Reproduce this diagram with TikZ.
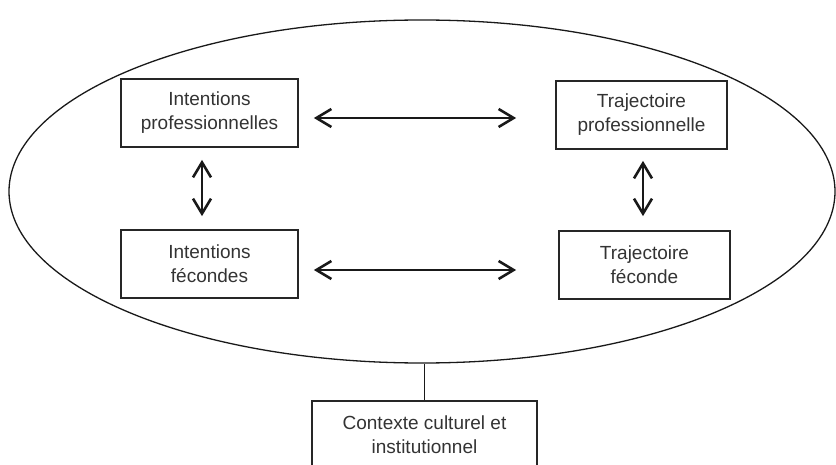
\documentclass[tikz,border=0pt]{standalone}
\usepackage{fontspec}
\setmainfont{Liberation Sans}
\usetikzlibrary{arrows.meta,shapes.geometric}

\begin{document}
\begin{tikzpicture}[x=1pt, y=-1pt,
		boite/.style={draw=black!85, line width=1.7pt, text=black!80, align=center,
			minimum height=68pt, inner sep=0pt, font=\fontsize{19}{24}\selectfont},
		fleche/.style={draw=black!90, line width=2.6pt,
			{Straight Barb[length=15pt,width=18pt]}-{Straight Barb[length=15pt,width=18pt]}}]
		%%%%% START %%%%%
		
		\useasboundingbox (0, 0) rectangle (836, 465);
		\clip (0, 0) rectangle (836, 465);
		
		\node[ellipse, draw=black!90, line width=1.3pt, minimum width=826pt, minimum height=343pt,
			inner sep=0pt] (cadre) at (422, 191.5) {};
		
		\node[boite, minimum width=177pt] (ip) at (209.5, 113) {Intentions\\professionnelles};
		\node[boite, minimum width=171pt] (tp) at (641.5, 115) {Trajectoire\\professionnelle};
		\node[boite, minimum width=177pt] (if) at (209.5, 264) {Intentions\\fécondes};
		\node[boite, minimum width=171pt] (tf) at (644.5, 265) {Trajectoire\\féconde};
		
		\node[boite, minimum width=225pt, minimum height=67pt] (ctx) at (424.5, 434.5) {Contexte culturel et\\institutionnel};
		
		\draw[fleche] ([shift={(15,5)}]ip.east) -- ([shift={(-39,3)}]tp.west);
		\draw[fleche] ([shift={(15,6)}]if.east) -- ([shift={(-42,5)}]tf.west);
		\draw[fleche] ([shift={(-7.5,12)}]ip.south) -- ([shift={(-7.5,-13)}]if.north);
		\draw[fleche] ([shift={(1.5,11)}]tp.south) -- ([shift={(-1.5,-14)}]tf.north);
		
		\draw[black!90, line width=1.6pt] (ctx.north) -- (ctx.north |- cadre.south);
		
		%%%%% END %%%%%
\end{tikzpicture}
\end{document}
